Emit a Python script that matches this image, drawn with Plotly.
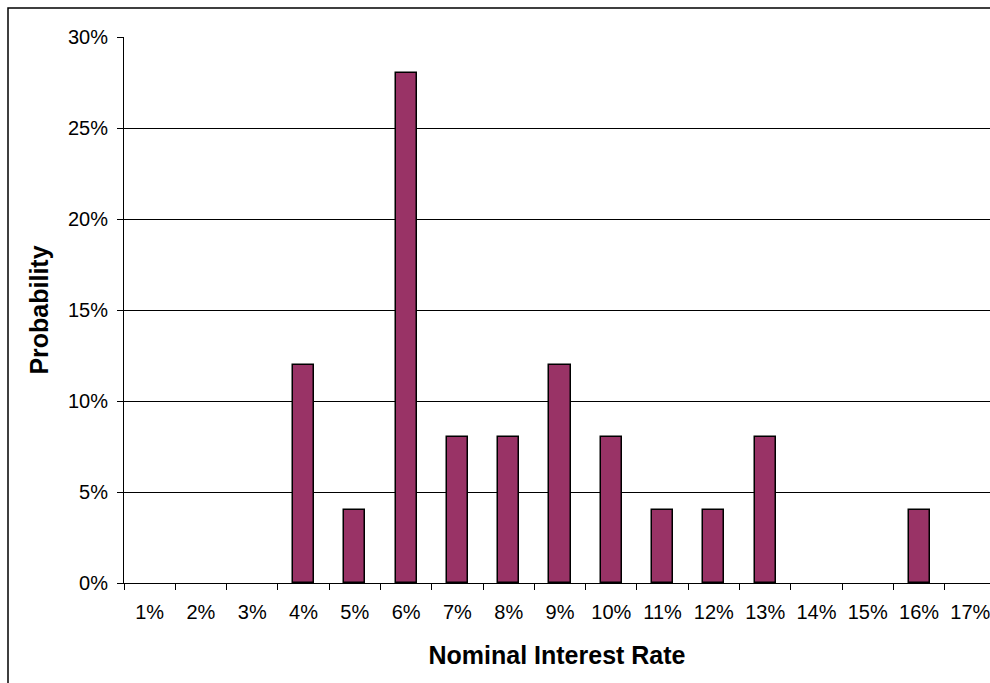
import plotly.graph_objects as go

categories = ["1%", "2%", "3%", "4%", "5%", "6%", "7%", "8%", "9%", "10%",
              "11%", "12%", "13%", "14%", "15%", "16%", "17%"]
probabilities = [0.00, 0.00, 0.00, 0.12, 0.04, 0.28, 0.08, 0.08, 0.12, 0.08,
                 0.04, 0.04, 0.08, 0.00, 0.00, 0.04, 0.00]

FONT = "Liberation Sans, Arial, sans-serif"

outline_widths = [1.5 if v > 0 else 0 for v in probabilities]

fig = go.Figure(
    go.Bar(
        x=categories,
        y=probabilities,
        width=0.41,
        marker=dict(color="#993366", line=dict(color="#000000", width=outline_widths)),
    )
)

W, H = 990, 683
L, R, T, B = 124, 0, 37, 100
pw = W - L - R
ph = H - T - B

fig.update_layout(
    width=W,
    height=H,
    margin=dict(l=L, r=R, t=T, b=B),
    paper_bgcolor="white",
    plot_bgcolor="white",
    showlegend=False,
    font=dict(family=FONT, size=20, color="black"),
    bargap=0,
)

fig.update_xaxes(
    type="category",
    range=[-0.5, 16.5 - 6 / 51.3],
    tickson="boundaries",
    ticks="outside",
    ticklen=6,
    tickwidth=1,
    tickcolor="black",
    showline=True,
    linecolor="black",
    linewidth=1,
    showgrid=False,
    ticklabelstandoff=11,
    tickfont=dict(family=FONT, size=20, color="black"),
    title=dict(text="<b>Nominal Interest Rate</b>", font=dict(family=FONT, size=25, color="black"), standoff=24),
)

fig.update_yaxes(
    range=[0, 0.30],
    dtick=0.05,
    tickformat=".0%",
    ticks="outside",
    ticklen=6,
    tickwidth=1,
    tickcolor="black",
    showline=True,
    linecolor="black",
    linewidth=1,
    showgrid=True,
    gridcolor="black",
    gridwidth=1,
    zeroline=False,
    ticklabelstandoff=5,
    tickfont=dict(family=FONT, size=20, color="black"),
    title=dict(text="<b>Probability</b>", font=dict(family=FONT, size=25, color="black"), standoff=12),
)

# outer chart border (partly cropped at right and bottom)
fig.add_shape(
    type="rect",
    xref="paper", yref="paper",
    x0=(8 - L) / pw, x1=1.05,
    y0=-0.4, y1=(583 - 8) / ph,
    line=dict(color="#000000", width=1.5),
    fillcolor="rgba(0,0,0,0)",
    layer="below",
)

fig.write_html("out.html")
